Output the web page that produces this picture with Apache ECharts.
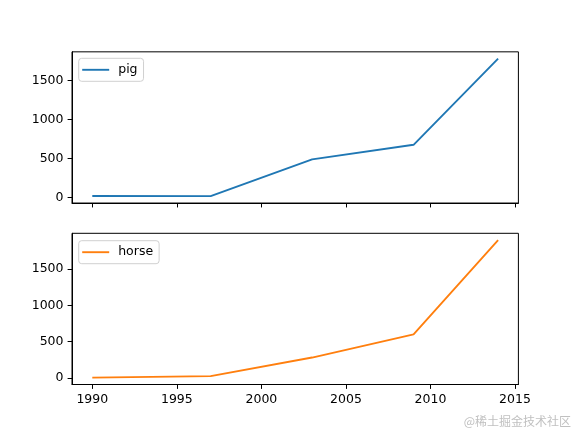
<!DOCTYPE html>
<html>
<head>
<meta charset="utf-8">
<script src="https://cdn.jsdelivr.net/npm/echarts@6/dist/echarts.min.js"></script>
<style>
html,body{margin:0;padding:0;background:#fff;}
#c{width:576px;height:432px;}
</style>
</head>
<body>
<div id="c"></div>
<script>
const years = [1990, 1997, 2003, 2009, 2014];
const pig = [20, 18, 489, 675, 1776];
const horse = [4, 25, 281, 600, 1900];
const xTicks = [1990, 1995, 2000, 2005, 2010, 2015];
const yTicks = [0, 500, 1000, 1500];

function pad(arr) {
  const lo = Math.min(...arr), hi = Math.max(...arr), r = hi - lo;
  return [lo - 0.05 * r, hi + 0.05 * r];
}
const xr = pad(years), pr = pad(pig), hr = pad(horse);

const font = { fontFamily: 'DejaVu Sans', fontSize: 12.5, color: '#000' };
function xAxis(gi, showLabels) {
  return {
    type: 'value', gridIndex: gi, min: xr[0], max: xr[1],
    axisLine: { show: true, onZero: false, lineStyle: { color: '#000', width: 1 } },
    axisTick: { show: true, length: 4.4, customValues: xTicks, lineStyle: { color: '#000', width: 1 } },
    axisLabel: Object.assign({ show: showLabels, margin: 8.5, customValues: xTicks, formatter: v => String(v) }, font),
    splitLine: { show: false }
  };
}
function yAxis(gi, r) {
  return {
    type: 'value', gridIndex: gi, min: r[0], max: r[1],
    axisLine: { show: true, onZero: false, lineStyle: { color: '#000', width: 1 } },
    axisTick: { show: true, length: 4.4, customValues: yTicks, lineStyle: { color: '#000', width: 1 } },
    axisLabel: Object.assign({ margin: 8.5, customValues: yTicks, formatter: v => String(v) }, font),
    splitLine: { show: false }
  };
}
function legend(name, top) {
  return {
    data: [name], left: 78.7, top: top, orient: 'vertical',
    icon: 'rect', itemWidth: 27, itemHeight: 1.9,
    padding: [5, 6, 5, 3.5],
    backgroundColor: 'rgba(255,255,255,0.8)', borderColor: '#d0d0d0', borderWidth: 1, borderRadius: 3,
    textStyle: { fontFamily: 'DejaVu Sans', fontSize: 12.5, color: '#000', padding: [0, 0, 0, 4] },
    selectedMode: false
  };
}
const chart = echarts.init(document.getElementById('c'), null, { renderer: 'canvas' });
chart.setOption({
  animation: false,
  backgroundColor: '#fff',
  grid: [
    { left: 72, top: 51.84, width: 446.4, height: 151.2, show: true, borderColor: '#000', borderWidth: 1, backgroundColor: 'transparent' },
    { left: 72, top: 233.3, width: 446.4, height: 151.2, show: true, borderColor: '#000', borderWidth: 1, backgroundColor: 'transparent' }
  ],
  xAxis: [xAxis(0, false), xAxis(1, true)],
  yAxis: [yAxis(0, pr), yAxis(1, hr)],
  legend: [legend('pig', 58.3), legend('horse', 240.7)],
  series: [
    { name: 'pig', type: 'line', xAxisIndex: 0, yAxisIndex: 0, data: years.map((y, i) => [y, pig[i]]),
      showSymbol: false, symbol: 'none', color: '#1f77b4', lineStyle: { width: 1.875, color: '#1f77b4' } },
    { name: 'horse', type: 'line', xAxisIndex: 1, yAxisIndex: 1, data: years.map((y, i) => [y, horse[i]]),
      showSymbol: false, symbol: 'none', color: '#ff7f0e', lineStyle: { width: 1.875, color: '#ff7f0e' } }
  ],
  graphic: [
    { type: 'text', right: 5, top: 415, style: { text: '@稀土掘金技术社区', fontFamily: 'Noto Sans CJK SC', fontSize: 12, fill: '#c0c0c0' } }
  ]
});
</script>
</body>
</html>
